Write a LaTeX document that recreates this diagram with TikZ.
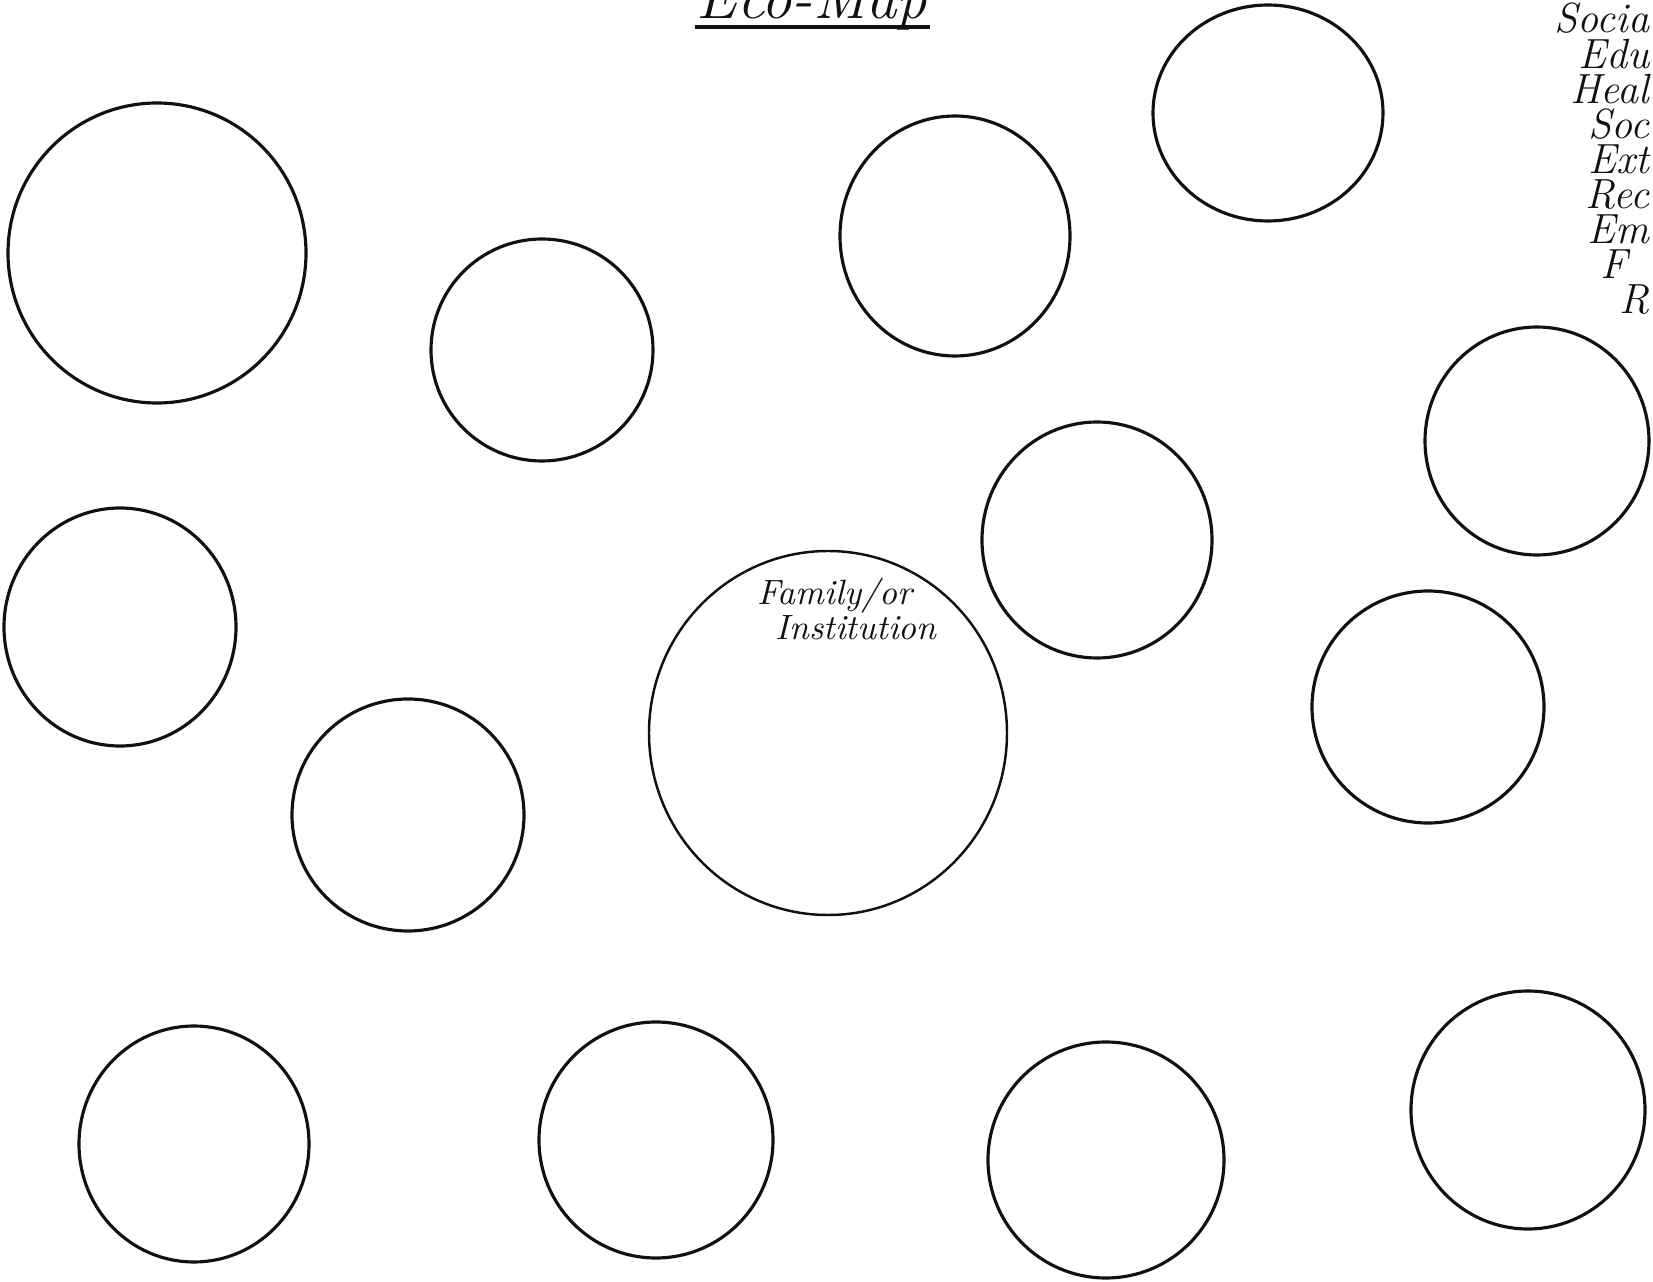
\documentclass[tikz,border=0pt]{standalone}
\usetikzlibrary{shapes.geometric}
\definecolor{ink}{HTML}{111111}

\begin{document}
\begin{tikzpicture}[
  sysring/.style={draw=ink, line width=0.9pt, ellipse, inner sep=0pt},
  entry/.style={anchor=base east, inner sep=0pt, font=\large\itshape, text=ink},
  note/.style={anchor=base west, inner sep=0pt, font=\itshape, text=ink}
]
\useasboundingbox (0,0) rectangle (16.53,-12.82);
\clip (0,0) rectangle (16.53,-12.82);

% title (top cut off by the page edge)
\node[anchor=base, inner sep=0pt, font=\LARGE\itshape, text=ink] (title) at (8.12,-0.19) {Eco-Map};
\coordinate (ulL) at (6.95,-0.27);
\coordinate (ulR) at (9.30,-0.27);
\draw[ink, line width=1pt] (ulL) -- (ulR);

% systems around the family
\node[sysring, minimum width=2.98cm, minimum height=3.00cm] (sys1) at (1.57,-2.53) {};
\node[sysring, minimum width=2.22cm, minimum height=2.22cm] (sys2) at (5.42,-3.50) {};
\node[sysring, minimum width=2.30cm, minimum height=2.40cm] (sys3) at (9.55,-2.36) {};
\node[sysring, minimum width=2.30cm, minimum height=2.16cm] (sys4) at (12.68,-1.13) {};
\node[sysring, minimum width=2.24cm, minimum height=2.28cm] (sys5) at (15.37,-4.41) {};
\node[sysring, minimum width=2.30cm, minimum height=2.36cm] (sys6) at (10.97,-5.40) {};
\node[sysring, minimum width=2.32cm, minimum height=2.38cm] (sys7) at (1.20,-6.27) {};
\node[sysring, minimum width=2.32cm, minimum height=2.32cm] (sys9) at (14.28,-7.07) {};
\node[sysring, minimum width=2.32cm, minimum height=2.32cm] (sys10) at (4.08,-8.15) {};
\node[sysring, minimum width=2.30cm, minimum height=2.36cm] (sys11) at (1.94,-11.44) {};
\node[sysring, minimum width=2.34cm, minimum height=2.36cm] (sys12) at (6.56,-11.40) {};
\node[sysring, minimum width=2.36cm, minimum height=2.36cm] (sys13) at (11.06,-11.60) {};
\node[sysring, minimum width=2.34cm, minimum height=2.38cm] (sys14) at (15.28,-11.10) {};

% family in the middle
\node[sysring, line width=0.7pt, minimum width=3.58cm, minimum height=3.64cm] (family) at (8.28,-7.33) {};
\node[note] (famtext) at (7.57,-6.05) {Family/or};
\node[note] (insttext) at (7.75,-6.40) {Institution};

% list of systems (runs up to the page edge)
\node[entry] (l1) at (16.50,-0.33) {Socia};
\node[entry] (l2) at (16.50,-0.69) {Edu};
\node[entry] (l3) at (16.50,-1.04) {Heal};
\node[entry] (l4) at (16.50,-1.39) {Soc};
\node[entry] (l5) at (16.50,-1.74) {Ext};
\node[entry] (l6) at (16.50,-2.09) {Rec};
\node[entry] (l7) at (16.50,-2.44) {Em};
\node[entry, anchor=base west] (l8) at (16.00,-2.79) {F};
\node[entry] (l9) at (16.50,-3.14) {R};

\end{tikzpicture}
\end{document}
